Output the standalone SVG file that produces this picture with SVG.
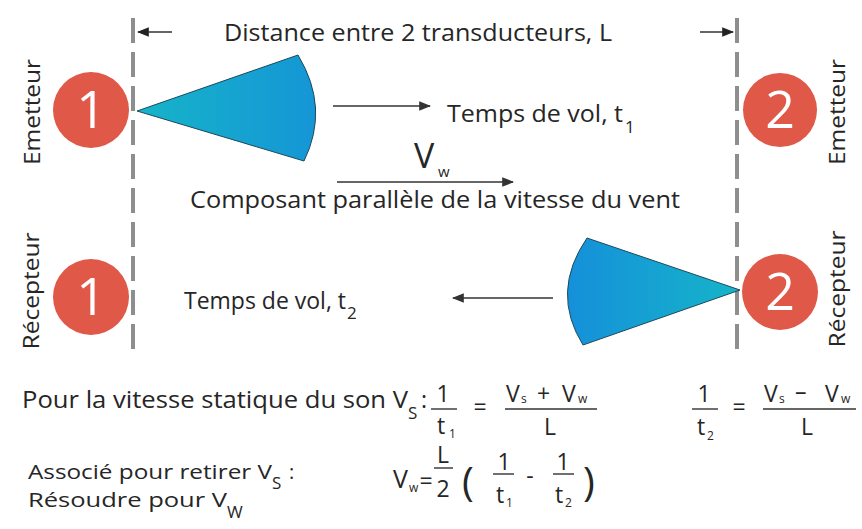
<svg xmlns="http://www.w3.org/2000/svg" width="862" height="529" viewBox="0 0 862 529">
<style>
text{font-family:"Open Sans","Noto Sans","Liberation Sans",sans-serif;fill:#262626}
.lbl{font-size:23px}
.lbl2{font-size:20px}
.sub{font-size:17px}
.vert{font-size:22px}
.num{font-size:52px;fill:#fff;text-anchor:middle}
.f{font-size:23px}
.fs{font-size:12px}
.c{text-anchor:middle}
.circ{fill:#df5848}
.dash{stroke:#8e8e8e;stroke-width:4;stroke-dasharray:25 9;fill:none}
.bar{stroke:#333;stroke-width:1.4}
.arr{stroke:#333;stroke-width:1.6;fill:none}
.cone{stroke:#1d4a5a;stroke-width:1}
</style>
<defs>
<marker id="ah" viewBox="0 0 10 10" refX="9" refY="5" markerWidth="12" markerHeight="12" markerUnits="userSpaceOnUse" orient="auto">
<path d="M0,1 L10,5 L0,9 Z" fill="#222"/>
</marker>
<marker id="ahs" viewBox="0 0 10 10" refX="9" refY="5" markerWidth="12" markerHeight="12" markerUnits="userSpaceOnUse" orient="auto">
<path d="M0,1 L10,5 L0,9 Z" fill="#333"/>
</marker>
<linearGradient id="g1" x1="0" y1="0" x2="1" y2="0">
<stop offset="0" stop-color="#16b4c9"/>
<stop offset="1" stop-color="#1596d6"/>
</linearGradient>
<linearGradient id="g2" x1="1" y1="0" x2="0" y2="0">
<stop offset="0" stop-color="#16b4c9"/>
<stop offset="1" stop-color="#1590da"/>
</linearGradient>
</defs>
<rect width="862" height="529" fill="#fff"/>

<g id="transducer-lines">
<line class="dash" x1="133" y1="18" x2="133" y2="352"/>
<line class="dash" x1="737" y1="18" x2="737" y2="352"/>
</g>

<g id="cone-1">
<path class="cone" fill="url(#g1)" d="M137,111 L298,55 Q330,108 304,161 Z"/>
</g>
<g id="cone-2">
<path class="cone" fill="url(#g2)" d="M740,290 L587,238 Q550,292 583,345 Z"/>
</g>

<g id="emetteur-1">
<circle class="circ" cx="91" cy="110" r="38"/>
<text class="num" x="91" y="128">1</text>
<text class="vert c" transform="translate(40,112) rotate(-90)" textLength="106" lengthAdjust="spacingAndGlyphs">Emetteur</text>
</g>
<g id="emetteur-2">
<circle class="circ" cx="780" cy="110" r="37"/>
<text class="num" x="780" y="128">2</text>
<text class="vert c" transform="translate(845,112) rotate(-90)" textLength="106" lengthAdjust="spacingAndGlyphs">Emetteur</text>
</g>
<g id="recepteur-1">
<circle class="circ" cx="91" cy="297" r="38"/>
<text class="num" x="91" y="315">1</text>
<text class="vert c" transform="translate(39,291) rotate(-90)" textLength="117" lengthAdjust="spacingAndGlyphs">Récepteur</text>
</g>
<g id="recepteur-2">
<circle class="circ" cx="780" cy="292" r="38"/>
<text class="num" x="780" y="310">2</text>
<text class="vert c" transform="translate(845,289) rotate(-90)" textLength="117" lengthAdjust="spacingAndGlyphs">Récepteur</text>
</g>

<g id="connectors">
<line class="arr" x1="172" y1="32" x2="138" y2="32" marker-end="url(#ah)"/>
<line class="arr" x1="700" y1="32" x2="733" y2="32" marker-end="url(#ah)"/>
<line class="arr" x1="333" y1="106" x2="430" y2="106" marker-end="url(#ahs)"/>
<line class="arr" x1="337" y1="182" x2="513" y2="182" marker-end="url(#ahs)"/>
<line class="arr" x1="553" y1="298" x2="453" y2="298" marker-end="url(#ahs)"/>
</g>

<g id="labels">
<text class="lbl" x="224" y="41" textLength="388" lengthAdjust="spacingAndGlyphs">Distance entre 2 transducteurs, L</text>
<text class="lbl" x="447" y="122" textLength="176" lengthAdjust="spacingAndGlyphs">Temps de vol, t</text>
<text class="sub" x="625" y="133">1</text>
<text x="414" y="168" style="font-size:34px">V</text>
<text x="438" y="177" style="font-size:15px">w</text>
<text class="lbl" x="190" y="208" textLength="490" lengthAdjust="spacingAndGlyphs">Composant parallèle de la vitesse du vent</text>
<text class="lbl" x="184" y="309" textLength="162" lengthAdjust="spacingAndGlyphs">Temps de vol, t</text>
<text class="sub" x="347" y="319">2</text>
</g>

<g id="formulas">
<text class="lbl" x="22" y="408" textLength="386" lengthAdjust="spacingAndGlyphs">Pour la vitesse statique du son V</text>
<text class="sub" x="408" y="419">S</text>
<text class="lbl" x="421" y="408">:</text>

<text class="f c" x="443" y="402">1</text>
<line class="bar" x1="431" y1="409" x2="457" y2="409"/>
<text class="f" x="437" y="434">t</text>
<text class="fs" x="449" y="438">1</text>
<text class="f c" x="480" y="415">=</text>
<text class="f" x="506" y="402">V</text>
<text class="fs" x="521" y="403">s</text>
<text class="f" x="537" y="402">+</text>
<text class="f" x="562" y="402">V</text>
<text class="fs" x="578" y="403">w</text>
<line class="bar" x1="505" y1="409" x2="597" y2="409"/>
<text class="f c" x="550" y="435">L</text>

<text class="f c" x="704" y="402">1</text>
<line class="bar" x1="692" y1="409" x2="718" y2="409"/>
<text class="f" x="697" y="435">t</text>
<text class="fs" x="707" y="440">2</text>
<text class="f c" x="739" y="415">=</text>
<text class="f" x="764" y="402">V</text>
<text class="fs" x="779" y="403">s</text>
<text class="f" x="795" y="400">–</text>
<text class="f" x="825" y="402">V</text>
<text class="fs" x="841" y="403">w</text>
<line class="bar" x1="763" y1="409" x2="856" y2="409"/>
<text class="f c" x="807" y="435">L</text>

<text class="lbl2" x="28" y="479" textLength="244" lengthAdjust="spacingAndGlyphs">Associé pour retirer V</text>
<text class="sub" x="272" y="489">S</text>
<text class="lbl2" x="289" y="479">:</text>
<text class="lbl2" x="28" y="507" textLength="199" lengthAdjust="spacingAndGlyphs">Résoudre pour V</text>
<text class="sub" x="227" y="518">W</text>

<text class="f" x="393" y="488" style="font-size:25px">V</text>
<text class="fs" x="409" y="492">w</text>
<text class="f c" x="426" y="489">=</text>
<text class="f c" x="443" y="463">L</text>
<line class="bar" x1="434" y1="468" x2="453" y2="468"/>
<text class="f c" x="443" y="497">2</text>
<text x="462" y="496" style="font-size:40px">(</text>
<text class="f c" x="504" y="470">1</text>
<line class="bar" x1="493" y1="474" x2="514" y2="474"/>
<text class="f" x="496" y="503">t</text>
<text class="fs" x="506" y="507">1</text>
<text class="f c" x="530" y="484">-</text>
<text class="f c" x="563" y="470">1</text>
<line class="bar" x1="553" y1="474" x2="574" y2="474"/>
<text class="f" x="555" y="503">t</text>
<text class="fs" x="565" y="507">2</text>
<text x="583" y="496" style="font-size:40px">)</text>
</g>
</svg>
